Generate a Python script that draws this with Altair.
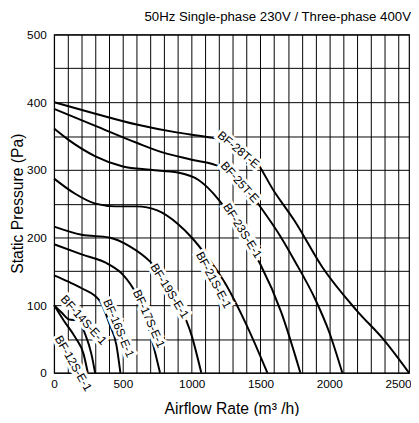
import altair as alt
import pandas as pd

# ---- data ----
names = ["BF-28T-E", "BF-25T-E", "BF-23S-E-1", "BF-21S-E-1", "BF-19S-E-1",
         "BF-17S-E-1", "BF-16S-E-1", "BF-14S-E-1", "BF-12S-E-1"]

q_28 = [0, 300, 600, 900, 1100, 1300, 1450, 1600, 1750, 1950, 2200, 2400, 2580]
p_28 = [400, 383, 367, 355, 349, 340, 318, 268, 224, 156, 92, 48, 0]

q_25 = [0, 300, 600, 800, 1000, 1200, 1350, 1500, 1650, 1750, 1900, 2000, 2095]
p_25 = [390, 365, 340, 325, 315, 305, 285, 245, 200, 165, 108, 60, 0]

q_23 = [0, 100, 300, 500, 700, 900, 1050, 1200, 1350, 1500, 1650, 1790]
p_23 = [361, 345, 320, 305, 300, 296, 285, 255, 210, 160, 90, 0]

q_21 = [0, 150, 300, 450, 600, 750, 900, 1000, 1100, 1250, 1400, 1550]
p_21 = [287, 265, 250, 246, 246, 240, 220, 200, 175, 130, 70, 0]

q_19 = [0, 200, 400, 550, 700, 800, 900, 1000, 1070]
p_19 = [216, 204, 200, 187, 164, 140, 105, 55, 0]

q_17 = [0, 200, 400, 500, 600, 650, 700, 770]
p_17 = [190, 175, 160, 145, 115, 90, 57, 0]

q_16 = [0, 100, 200, 333, 405, 452, 482]
p_16 = [144, 135, 125, 106, 71, 42, 0]

q_14 = [0, 60, 107, 179, 226, 271, 298]
p_14 = [100, 88, 79, 77, 57, 28, 0]

q_12 = [0, 71, 155, 214, 245]
p_12 = [100, 77, 52, 28, 0]

flows = [q_28, q_25, q_23, q_21, q_19, q_17, q_16, q_14, q_12]
pressures = [p_28, p_25, p_23, p_21, p_19, p_17, p_16, p_14, p_12]

# label positions (flow, pressure) and text angle
label_q = [1340, 1350, 1370, 1160, 840, 690, 470, 215, 140]
label_p = [330, 282, 210, 137, 121, 80, 66, 78, 14]
label_angle = [40, 48, 58, 62, 58, 66, 67, 48, 60]

title_text = "50Hz Single-phase 230V / Three-phase 400V"
x_title = "Airflow Rate (m³ /h)"
y_title = "Static Pressure (Pa)"

x_grid = list(range(0, 2600, 100))
y_grid = list(range(0, 550, 50))

rows = []
for n, qs, ps in zip(names, flows, pressures):
    for i, (q, p) in enumerate(zip(qs, ps)):
        rows.append({"name": n, "q": q, "p": p, "order": i})
df = pd.DataFrame(rows)
lab = pd.DataFrame({"name": names, "q": label_q, "p": label_p, "angle": label_angle})

sans = "Liberation Sans, Arial, sans-serif"

xs = alt.Scale(domain=[0, 2580], nice=False)
ys = alt.Scale(domain=[0, 500], nice=False)

x_axis = alt.Axis(values=x_grid,
                  labelExpr="datum.value % 500 == 0 ? datum.label : ''",
                  format="d", title=x_title, grid=True, gridColor="black",
                  gridOpacity=1, gridWidth=1, ticks=False, domain=False,
                  labelFont=sans, labelFontSize=12, labelColor="black",
                  labelPadding=6, titleFont=sans, titleFontSize=16,
                  titleFontWeight="normal", titleColor="black",
                  titleX=181, titleY=36, titleBaseline="middle", titleAlign="center",
                  labelFlush=False, labelOverlap=False)
y_axis = alt.Axis(values=y_grid,
                  labelExpr="datum.value % 100 == 0 ? datum.label : ''",
                  format="d", title=y_title, grid=True, gridColor="black",
                  gridOpacity=1, gridWidth=1, ticks=False, domain=False,
                  labelFont=sans, labelFontSize=12, labelColor="black",
                  labelPadding=8, titleFont=sans, titleFontSize=16,
                  titleFontWeight="normal", titleColor="black",
                  titleX=-37, titleY=172, titleAngle=270, titleBaseline="middle",
                  titleAlign="center", labelFlush=False, labelOverlap=False)

X = alt.X("q:Q", scale=xs, axis=x_axis)
Y = alt.Y("p:Q", scale=ys, axis=y_axis)

lines = alt.Chart(df).mark_line(color="black", strokeWidth=2, interpolate="monotone").encode(
    x=X, y=Y, detail="name:N", order="order:Q")

halo = alt.Chart(lab).mark_text(font=sans, fontSize=12, color="white", stroke="white",
                                strokeWidth=6, clip=False).encode(
    x=X, y=Y, text="name:N", angle=alt.Angle("angle:Q", scale=None))
texts = alt.Chart(lab).mark_text(font=sans, fontSize=12, color="black", clip=False).encode(
    x=X, y=Y, text="name:N", angle=alt.Angle("angle:Q", scale=None))

chart = alt.layer(lines, halo, texts).properties(
    width=362, height=345,
    title=alt.TitleParams(title_text, anchor="end", font=sans, fontSize=13.5,
                          fontWeight="normal", color="black", offset=5, dx=-2),
    autosize=alt.AutoSizeParams(type="none"),
    padding={"left": 47, "top": 23, "right": 2, "bottom": 40},
).configure_view(stroke="black", strokeWidth=1.2)

chart.save("out.html", embed_options={"renderer": "svg", "actions": False})
